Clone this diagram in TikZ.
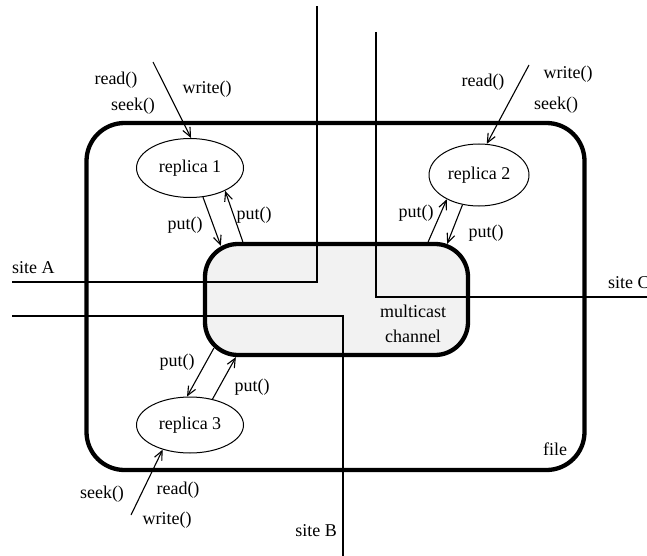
\documentclass[tikz,border=0pt]{standalone}
\usepackage{fontspec}
\setmainfont{Liberation Serif}
\usetikzlibrary{arrows.meta,shapes.geometric,calc}
\begin{document}
\begin{tikzpicture}[x=1pt,y=-1pt,
  every node/.style={font=\fontsize{18}{22}\selectfont, inner sep=0pt},
  thickbox/.style={draw, line width=4.3pt, rectangle},
  rep/.style={draw, ellipse, line width=1pt, minimum width=107pt, minimum height=59pt},
  arr/.style={line width=1.1pt, -{Straight Barb[length=9pt,width=8pt]}},
  wire/.style={line width=1.3pt}]
\useasboundingbox (0,0) rectangle (647,556);
% file box
\node[thickbox, rounded corners=38pt, minimum width=498pt, minimum height=347pt] (file) at (335.5,296.5) {};
\node (filelbl) at (555,449) {file};
% channel
\node[thickbox, rounded corners=33pt, fill=black!5, minimum width=263pt, minimum height=111pt] (channel) at (336.5,299.5) {};
\node[align=center, font=\fontsize{18}{25}\selectfont] (chlbl) at (413,324) {multicast\\channel};
% site wires
\coordinate (aL) at (12,282);
\coordinate (aC) at (317,282);
\coordinate (aT) at (317,6);
\draw[wire] (aL) -- (aC) -- (aT);
\node[anchor=west] (siteA) at (12,268) {site A};
\coordinate (bL) at (12,316);
\coordinate (bC) at (343,316);
\coordinate (bB) at (343,556);
\draw[wire] (bL) -- (bC) -- (bB);
\node[anchor=east] (siteB) at (337,531) {site B};
\coordinate (cT) at (376,32);
\coordinate (cC) at (376,297);
\coordinate (cR) at (647,297);
\draw[wire] (cT) -- (cC) -- (cR);
\node[anchor=west] (siteC) at (608,283) {site C};
% replicas
\node[rep] (r1) at (190,168) {replica 1};
\node[rep, minimum width=100pt, minimum height=62pt] (r2) at (479,175) {replica 2};
\node[rep, minimum height=56pt] (r3) at (190,425) {replica 3};
% inputs
\coordinate (in1) at (153,62);
\coordinate (in2) at (529,65);
\coordinate (in3) at (131,515);
\draw[arr] (in1) -- (r1.88);
\draw[arr] (in2) -- (r2.76);
\draw[arr] (in3) -- (r3.222);
\node (rd1) at (116,80) {read()};
\node (sk1) at (133,106) {seek()};
\node (wr1) at (207,89) {write()};
\node (rd2) at (483,82) {read()};
\node (wr2) at (568,74) {write()};
\node (sk2) at (556,105) {seek()};
\node (sk3) at (102,494) {seek()};
\node (rd3) at (178,490) {read()};
\node (wr3) at (167,520) {write()};
% put arrows
\draw[arr] (r1.-66) -- ($(channel.north west)+(18,4)$);
\draw[arr] ($(channel.north west)+(40,0)$) -- (r1.-33);
\node (p1a) at (185,225) {put()};
\node (p1b) at (254,215) {put()};
\draw[arr] ($(channel.north east)+(-42,0)$) -- (r2.-143);
\draw[arr] (r2.-119) -- ($(channel.north east)+(-23,2)$);
\node (p2a) at (416,213) {put()};
\node (p2b) at (486,233) {put()};
\draw[arr] ($(channel.south west)+(11,-9)$) -- (r3.96);
\draw[arr] (r3.49) -- ($(channel.south west)+(33,0)$);
\node (p3a) at (177,362) {put()};
\node (p3b) at (252,387) {put()};
\end{tikzpicture}
\end{document}
